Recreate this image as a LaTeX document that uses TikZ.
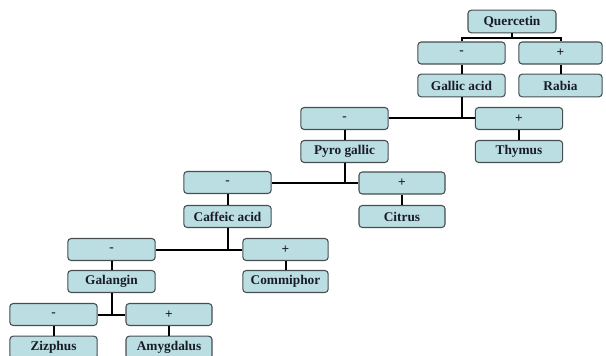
\documentclass[tikz,border=0pt]{standalone}
\usepackage{fontspec}
\setmainfont{Liberation Serif}
\definecolor{boxfill}{RGB}{187,222,226}
\definecolor{boxline}{RGB}{70,78,82}
\definecolor{txt}{RGB}{25,28,40}
\begin{document}
\begin{tikzpicture}[x=0.75pt,y=-0.75pt,
  box/.style={draw=boxline,line width=0.8pt,fill=boxfill,rounded corners=2.5pt,
    minimum width=65.5pt,minimum height=16.5pt,inner sep=0pt,
    font=\fontsize{10}{11}\selectfont\bfseries,text=txt},
  link/.style={draw=black,line width=1.5pt}]
\useasboundingbox (0,0) rectangle (606,356);
\clip (0,0) rectangle (606,356);
% boxes
\node[box,minimum width=66pt,minimum height=17pt] (Q) at (512,21.5) {Quercetin};
\node[box] (m1) at (461.5,53) {-};
\node[box,minimum width=62.5pt] (p1) at (560.5,53) {+};
\node[box,minimum height=17pt] (GA) at (461.5,85.5) {Gallic acid};
\node[box,minimum width=62.5pt,minimum height=17pt] (RB) at (560.5,85.5) {Rabia};
\node[box] (m2) at (344.5,118.5) {-};
\node[box] (p2) at (519,118.5) {+};
\node[box] (PG) at (344.5,151.5) {Pyro gallic};
\node[box] (TH) at (519,151.5) {Thymus};
\node[box] (m3) at (227.5,182.5) {-};
\node[box,minimum width=64.5pt] (p3) at (402,183) {+};
\node[box] (CA) at (227.5,216.5) {Caffeic acid};
\node[box,minimum width=64.5pt] (CI) at (402,216.5) {Citrus};
\node[box] (m4) at (111.5,249.5) {-};
\node[box,minimum width=64pt] (p4) at (285.5,249.5) {+};
\node[box] (GL) at (111.5,281.5) {Galangin};
\node[box,minimum width=64pt] (CM) at (285.5,281.5) {Commiphor};
\node[box] (m5) at (53.5,314.5) {-};
\node[box,minimum width=64.5pt] (p5) at (169,314.5) {+};
\node[box,minimum height=17pt] (ZZ) at (53.5,347.5) {Zizphus};
\node[box,minimum width=64.5pt,minimum height=17pt] (AM) at (169,347.5) {Amygdalus};
% connectors
\coordinate (qj) at ([yshift=-3.5pt]Q.south);
\draw[link] (Q.south) -- (qj);
\draw[link] (qj) -| (m1.north);
\draw[link] (qj) -| (p1.north);
\draw[link] (m1) -- (GA);
\draw[link] (p1) -- (RB);
\draw[link] (GA.south) |- (m2.east);
\draw[link] (GA.south) |- (p2.west);
\draw[link] (m2) -- (PG);
\draw[link] (p2) -- (TH);
\draw[link] (PG.south) |- (m3.east);
\draw[link] (PG.south) |- (p3.west);
\draw[link] (m3) -- (CA);
\draw[link] (p3) -- (CI);
\draw[link] (CA.south) |- (m4.east);
\draw[link] (CA.south) |- (p4.west);
\draw[link] (m4) -- (GL);
\draw[link] (p4) -- (CM);
\draw[link] (GL.south) |- (m5.east);
\draw[link] (GL.south) |- (p5.west);
\draw[link] (m5) -- (ZZ);
\draw[link] (p5) -- (AM);
\end{tikzpicture}
\end{document}
